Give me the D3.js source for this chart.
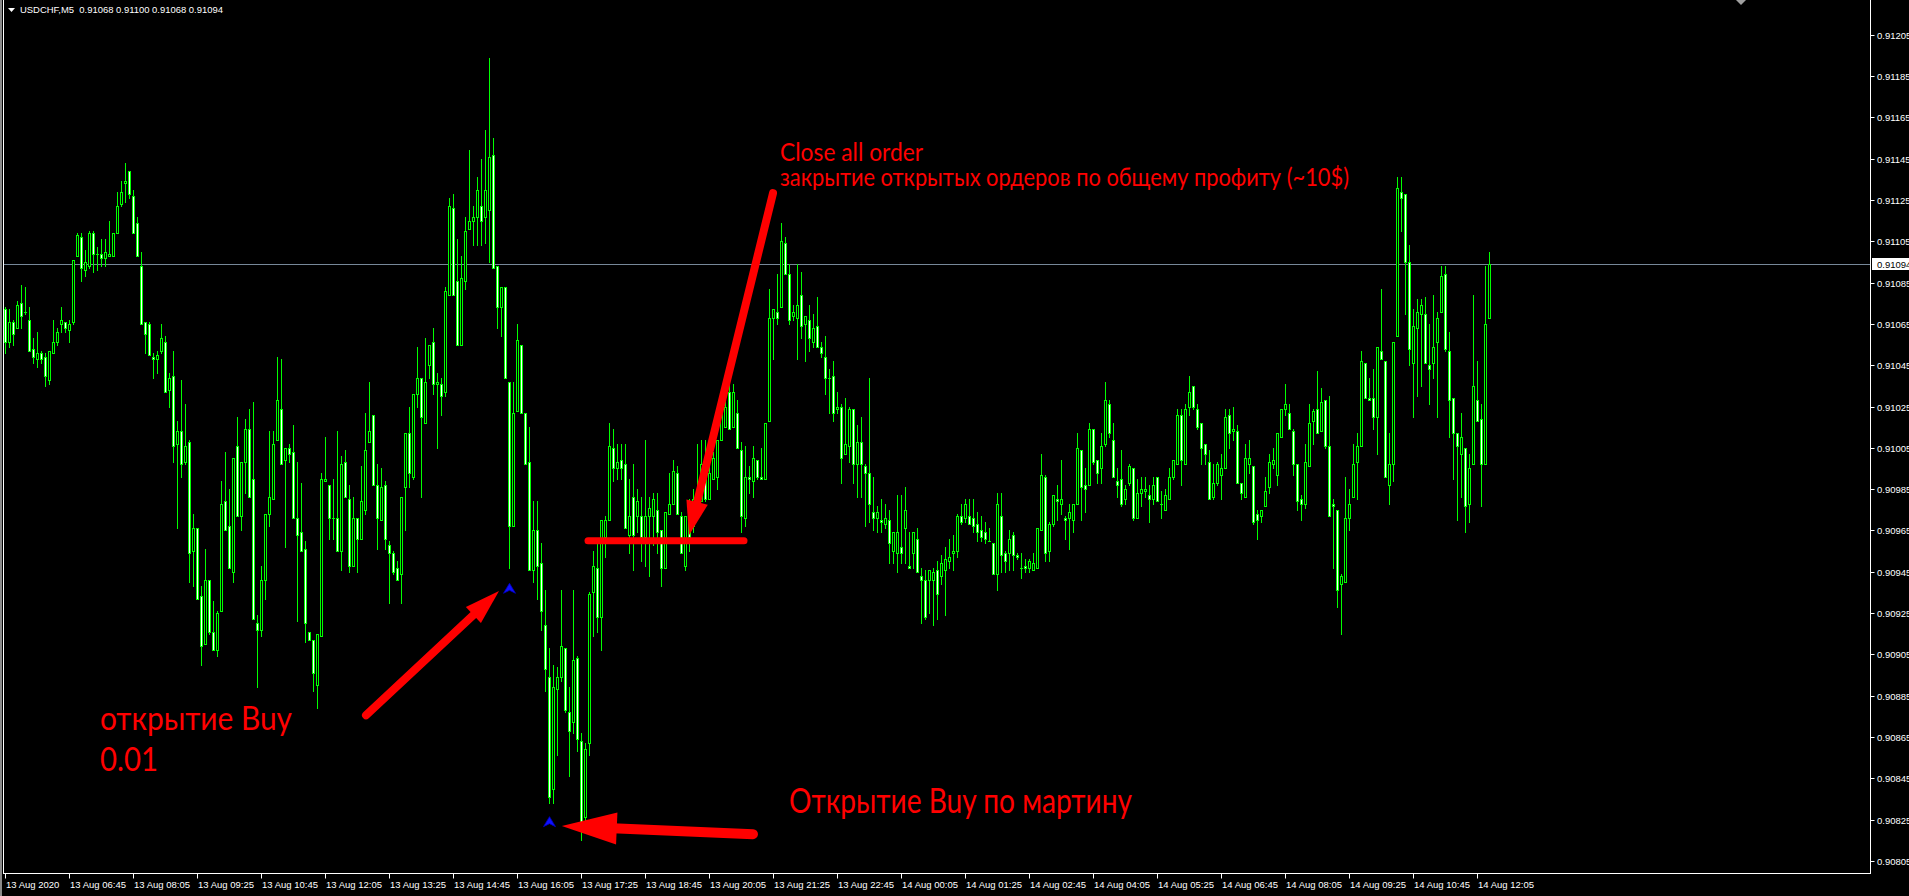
<!DOCTYPE html>
<html><head><meta charset="utf-8">
<script src="https://cdn.jsdelivr.net/npm/d3@7"></script>
<style>html,body{margin:0;padding:0;background:#000;overflow:hidden}</style>
</head><body><svg id="c" width="1909" height="896"></svg>
<script>
// ---------------- DATA ----------------
const symbol = "USDCHF,M5";
const headerOHLC = ["0.91068", "0.91100", "0.91068", "0.91094"];
const bidPrice = 0.91094;

const open = [
0.91072,0.91056,0.91066,0.91063,0.91075,0.91071,0.91067,0.91053,0.91048,0.91051,
0.91049,0.91038,0.91051,0.91056,0.91065,0.91066,0.91062,0.91066,0.91098,0.91107,
0.91091,0.91093,0.91109,0.91099,0.91099,0.91097,0.91098,0.91098,0.91109,0.91123,
0.91133,0.91139,0.91127,0.91114,0.91093,0.91066,0.91065,0.91049,0.91048,0.91052,
0.91056,0.91033,0.91040,0.91007,0.91013,0.90998,0.91008,0.90955,0.90966,0.90933,
0.90910,0.90941,0.90916,0.90907,0.90926,0.90979,0.90967,0.90945,0.91006,0.90972,
0.90998,0.91014,0.90990,0.90920,0.90917,0.90941,0.90973,0.90980,0.91009,0.91024,
0.90999,0.91005,0.91003,0.90971,0.90964,0.90956,0.90916,0.90912,0.90890,0.90914,
0.90989,0.90987,0.90971,0.90971,0.90955,0.90998,0.90980,0.90948,0.90971,0.90961,
0.90975,0.91008,0.91021,0.90987,0.90970,0.90987,0.90958,0.90954,0.90947,0.90944,
0.90986,0.91012,0.90991,0.91031,0.91039,0.91017,0.91045,0.91056,0.91036,0.91036,
0.91032,0.91079,0.91121,0.91086,0.91055,0.91086,0.91111,0.91115,0.91117,0.91122,
0.91117,0.91120,0.91147,0.91093,0.91073,0.91083,0.91037,0.90967,0.91023,0.91055,
0.91022,0.90998,0.90946,0.90965,0.90949,0.90919,0.90894,0.90840,0.90888,0.90894,
0.90908,0.90877,0.90872,0.90903,0.90863,0.90826,0.90862,0.90935,0.90947,0.90923,
0.90962,0.90970,0.91005,0.90995,0.90999,0.90997,0.90963,0.90981,0.90972,0.90972,
0.90962,0.90972,0.90972,0.90975,0.90965,0.90947,0.90973,0.90978,0.90993,0.90972,
0.90948,0.90972,0.90967,0.90978,0.90979,0.90998,0.90980,0.90990,0.90991,0.91009,
0.91015,0.91032,0.91015,0.91022,0.91004,0.90971,0.90991,0.90989,0.90999,0.90991,
0.90990,0.91018,0.91068,0.91071,0.91073,0.91104,0.91089,0.91069,0.91068,0.91079,
0.91065,0.91067,0.91056,0.91064,0.91054,0.91049,0.91039,0.91040,0.91024,0.91025,
0.91002,0.91006,0.91024,0.90997,0.91008,0.90996,0.90993,0.90974,0.90971,0.90970,
0.90968,0.90970,0.90955,0.90954,0.90957,0.90966,0.90948,0.90954,0.90961,0.90943,
0.90941,0.90941,0.90941,0.90946,0.90943,0.90946,0.90950,0.90954,0.90955,0.90972,
0.90971,0.90972,0.90971,0.90968,0.90965,0.90964,0.90960,0.90959,0.90944,0.90972,
0.90954,0.90954,0.90963,0.90953,0.90947,0.90948,0.90947,0.90946,0.90947,0.90965,
0.90991,0.90955,0.90968,0.90980,0.90978,0.90971,0.90971,0.90970,0.90978,0.91004,
0.90987,0.90987,0.91014,0.90999,0.90995,0.91007,0.91026,0.91009,0.90989,0.90990,
0.90980,0.90988,0.90995,0.90971,0.90983,0.90984,0.90982,0.90980,0.90991,0.90978,
0.90975,0.90980,0.90991,0.90997,0.91021,0.90997,0.91025,0.91035,0.91024,0.91017,
0.91007,0.90998,0.90981,0.90988,0.90992,0.90995,0.91021,0.91013,0.91013,0.90988,
0.90981,0.90997,0.90996,0.90973,0.90972,0.90977,0.90986,0.90997,0.90992,0.91010,
0.91024,0.91022,0.91013,0.90997,0.90980,0.90978,0.90996,0.91018,0.91024,0.91013,
0.91028,0.91006,0.90978,0.90975,0.90939,0.90940,0.90971,0.90981,0.90998,0.91006,
0.91046,0.91029,0.91029,0.91020,0.91052,0.91047,0.90987,0.90997,0.91059,0.91129,
0.91128,0.91095,0.91046,0.91063,0.91070,0.91070,0.91045,0.91046,0.91056,0.91071,
0.91089,0.91052,0.91029,0.91012,0.91002,0.91005,0.90978,0.90997,0.91028,0.91019,
0.90997,0.91068];

const high = [
0.91073,0.91072,0.91067,0.91076,0.91084,0.91083,0.91073,0.91058,0.91061,0.91052,
0.91051,0.91052,0.91067,0.91063,0.91073,0.91066,0.91067,0.91096,0.91109,0.91109,
0.91101,0.91110,0.91110,0.91102,0.91106,0.91106,0.91115,0.91109,0.91129,0.91134,
0.91143,0.91139,0.91130,0.91117,0.91100,0.91066,0.91066,0.91051,0.91052,0.91065,
0.91059,0.91041,0.91052,0.91018,0.91038,0.91026,0.91009,0.90973,0.90966,0.90938,
0.90956,0.90941,0.90931,0.90926,0.90989,0.91003,0.90985,0.91000,0.91020,0.90998,
0.91019,0.91024,0.91027,0.90924,0.90948,0.90973,0.91013,0.91013,0.91049,0.91048,
0.91005,0.91007,0.91016,0.90998,0.90988,0.90960,0.90916,0.90912,0.90915,0.90993,
0.91010,0.90987,0.90990,0.91013,0.91001,0.91004,0.90987,0.90981,0.90971,0.90996,
0.91022,0.91037,0.91021,0.90997,0.90995,0.90989,0.90960,0.90955,0.90950,0.90981,
0.91012,0.91025,0.91031,0.91054,0.91039,0.91058,0.91055,0.91063,0.91041,0.91039,
0.91083,0.91126,0.91128,0.91106,0.91098,0.91117,0.91149,0.91122,0.91136,0.91145,
0.91159,0.91194,0.91155,0.91093,0.91083,0.91083,0.91037,0.91037,0.91065,0.91055,
0.91022,0.91015,0.90979,0.90979,0.90959,0.90936,0.90908,0.90900,0.90899,0.90936,
0.90908,0.90889,0.90936,0.90904,0.90867,0.90862,0.90935,0.90955,0.90959,0.90970,
0.90972,0.91017,0.91014,0.91007,0.91007,0.91007,0.90990,0.90997,0.90985,0.90981,
0.91009,0.90981,0.90983,0.90983,0.90965,0.90974,0.90993,0.90999,0.90996,0.90974,
0.90972,0.90980,0.90985,0.91007,0.91009,0.91009,0.91004,0.91003,0.91009,0.91022,
0.91032,0.91037,0.91036,0.91028,0.91008,0.91006,0.90996,0.91006,0.90999,0.91005,
0.91017,0.91082,0.91072,0.91089,0.91114,0.91107,0.91094,0.91074,0.91094,0.91090,
0.91069,0.91074,0.91070,0.91078,0.91056,0.91059,0.91043,0.91047,0.91032,0.91026,
0.91029,0.91025,0.91024,0.91016,0.91020,0.90997,0.91039,0.90991,0.90977,0.90980,
0.90978,0.90975,0.90964,0.90982,0.90982,0.90986,0.90964,0.90964,0.90966,0.90947,
0.90946,0.90946,0.90947,0.90950,0.90953,0.90957,0.90961,0.90963,0.90973,0.90978,
0.90980,0.90980,0.90980,0.90974,0.90972,0.90969,0.90966,0.90959,0.90983,0.90983,
0.90955,0.90965,0.90964,0.90954,0.90954,0.90951,0.90951,0.90954,0.90966,0.91002,
0.90992,0.90969,0.90982,0.90987,0.90999,0.90972,0.90978,0.90978,0.91012,0.91004,
0.90995,0.91017,0.91014,0.90999,0.91012,0.91037,0.91028,0.91017,0.90995,0.91004,
0.90987,0.90997,0.90995,0.90990,0.90991,0.90991,0.90987,0.90991,0.90991,0.90984,
0.90985,0.90995,0.90999,0.91024,0.91024,0.91026,0.91040,0.91035,0.91026,0.91017,
0.91007,0.91004,0.90997,0.90998,0.91002,0.91024,0.91024,0.91025,0.91016,0.90988,
0.91007,0.91009,0.90996,0.90975,0.90975,0.90991,0.91002,0.91005,0.91012,0.91024,
0.91036,0.91026,0.91014,0.90997,0.90982,0.91007,0.91026,0.91024,0.91042,0.91034,
0.91028,0.91030,0.90980,0.90975,0.90944,0.90991,0.90985,0.91007,0.91012,0.91052,
0.91046,0.91039,0.91043,0.91054,0.91082,0.91047,0.91012,0.91056,0.91136,0.91136,
0.91128,0.91103,0.91072,0.91077,0.91077,0.91078,0.91065,0.91079,0.91071,0.91093,
0.91093,0.91061,0.91029,0.91012,0.91022,0.91005,0.91002,0.91079,0.91047,0.91026,
0.91093,0.91100];

const low = [
0.91051,0.91054,0.91055,0.91063,0.91063,0.91070,0.91052,0.91046,0.91044,0.91046,
0.91035,0.91036,0.91051,0.91055,0.91061,0.91061,0.91056,0.91065,0.91098,0.91086,
0.91088,0.91092,0.91090,0.91091,0.91093,0.91093,0.91098,0.91098,0.91109,0.91122,
0.91124,0.91126,0.91109,0.91098,0.91065,0.91051,0.91050,0.91039,0.91041,0.91051,
0.91032,0.91025,0.90998,0.90966,0.90991,0.90997,0.90940,0.90938,0.90932,0.90900,
0.90910,0.90915,0.90907,0.90904,0.90926,0.90965,0.90947,0.90940,0.90972,0.90965,
0.90983,0.90981,0.90922,0.90889,0.90914,0.90932,0.90967,0.90980,0.91009,0.90997,
0.90957,0.90998,0.90971,0.90921,0.90955,0.90911,0.90912,0.90887,0.90879,0.90914,
0.90989,0.90961,0.90961,0.90955,0.90946,0.90981,0.90945,0.90948,0.90945,0.90961,
0.90973,0.91008,0.90987,0.90956,0.90970,0.90956,0.90930,0.90944,0.90941,0.90930,
0.90965,0.90986,0.90990,0.91025,0.90981,0.91017,0.91039,0.91031,0.91005,0.91021,
0.91030,0.91079,0.91079,0.91055,0.91055,0.91082,0.91111,0.91103,0.91103,0.91103,
0.91104,0.91095,0.91092,0.91063,0.91059,0.91039,0.90947,0.90967,0.91023,0.91022,
0.90997,0.90946,0.90940,0.90932,0.90917,0.90887,0.90833,0.90833,0.90856,0.90892,
0.90877,0.90846,0.90867,0.90858,0.90815,0.90822,0.90856,0.90914,0.90916,0.90907,
0.90952,0.90970,0.90989,0.90990,0.90990,0.90966,0.90954,0.90946,0.90964,0.90950,
0.90948,0.90943,0.90958,0.90954,0.90938,0.90947,0.90973,0.90978,0.90973,0.90954,
0.90946,0.90955,0.90964,0.90978,0.90979,0.90979,0.90980,0.90990,0.90985,0.91009,
0.91015,0.91014,0.91015,0.91005,0.90964,0.90967,0.90983,0.90981,0.90990,0.90990,
0.90990,0.91018,0.91048,0.91065,0.91073,0.91089,0.91065,0.91067,0.91048,0.91058,
0.91047,0.91052,0.91054,0.91054,0.91049,0.91031,0.91022,0.91018,0.91022,0.90988,
0.91002,0.90998,0.90988,0.90981,0.90981,0.90967,0.90969,0.90965,0.90964,0.90964,
0.90966,0.90949,0.90949,0.90945,0.90949,0.90949,0.90947,0.90947,0.90945,0.90920,
0.90922,0.90925,0.90919,0.90922,0.90939,0.90924,0.90947,0.90946,0.90952,0.90968,
0.90969,0.90968,0.90964,0.90960,0.90960,0.90959,0.90960,0.90944,0.90936,0.90945,
0.90945,0.90946,0.90946,0.90951,0.90942,0.90945,0.90945,0.90946,0.90947,0.90965,
0.90950,0.90950,0.90967,0.90970,0.90973,0.90961,0.90956,0.90964,0.90978,0.90970,
0.90974,0.90987,0.90997,0.90988,0.90988,0.91006,0.91010,0.90991,0.90981,0.90977,
0.90978,0.90987,0.90970,0.90971,0.90977,0.90981,0.90969,0.90978,0.90979,0.90971,
0.90975,0.90980,0.90990,0.90997,0.90987,0.90997,0.91021,0.91024,0.91014,0.90997,
0.90997,0.90980,0.90980,0.90987,0.90980,0.90995,0.91005,0.91009,0.90988,0.90980,
0.90981,0.90993,0.90968,0.90961,0.90969,0.90977,0.90983,0.90995,0.90987,0.91010,
0.91021,0.91014,0.90992,0.90975,0.90970,0.90976,0.90996,0.91007,0.91012,0.91013,
0.91005,0.90972,0.90947,0.90928,0.90915,0.90940,0.90965,0.90981,0.90980,0.91006,
0.91029,0.91028,0.91014,0.91002,0.91048,0.90991,0.90978,0.90989,0.91059,0.91110,
0.91070,0.91045,0.91020,0.91030,0.91035,0.91046,0.91026,0.91039,0.91020,0.91071,
0.91052,0.91010,0.90990,0.90970,0.90981,0.90964,0.90969,0.90997,0.91018,0.90977,
0.90997,0.91068];

const close = [
0.91056,0.91066,0.91060,0.91074,0.91069,0.91071,0.91052,0.91049,0.91051,0.91048,
0.91040,0.91052,0.91056,0.91061,0.91067,0.91063,0.91065,0.91096,0.91108,0.91092,
0.91095,0.91109,0.91099,0.91099,0.91097,0.91100,0.91099,0.91109,0.91122,0.91129,
0.91134,0.91128,0.91109,0.91098,0.91065,0.91060,0.91050,0.91048,0.91050,0.91058,
0.91032,0.91039,0.91006,0.91013,0.90997,0.91006,0.90954,0.90966,0.90932,0.90909,
0.90941,0.90916,0.90907,0.90925,0.90978,0.90965,0.90947,0.91000,0.90972,0.90998,
0.91014,0.90981,0.90922,0.90917,0.90941,0.90973,0.90981,0.91007,0.91028,0.90997,
0.91005,0.91002,0.90971,0.90963,0.90955,0.90920,0.90912,0.90896,0.90915,0.90990,
0.90990,0.90971,0.90971,0.90955,0.90997,0.90981,0.90948,0.90971,0.90961,0.90979,
0.91004,0.91013,0.90987,0.90971,0.90986,0.90961,0.90954,0.90945,0.90941,0.90981,
0.91012,0.90993,0.91031,0.91039,0.91020,0.91037,0.91055,0.91036,0.91037,0.91030,
0.91081,0.91122,0.91079,0.91055,0.91087,0.91110,0.91115,0.91117,0.91130,0.91115,
0.91130,0.91146,0.91092,0.91073,0.91083,0.91039,0.90967,0.91022,0.91057,0.91022,
0.90997,0.90946,0.90965,0.90948,0.90926,0.90898,0.90836,0.90889,0.90894,0.90909,
0.90878,0.90868,0.90902,0.90864,0.90824,0.90859,0.90934,0.90948,0.90923,0.90970,
0.90970,0.91006,0.90995,0.90998,0.90995,0.90966,0.90972,0.90963,0.90979,0.90962,
0.90972,0.90976,0.90980,0.90964,0.90947,0.90974,0.90978,0.90994,0.90973,0.90954,
0.90972,0.90962,0.90980,0.90983,0.90997,0.90980,0.90993,0.91000,0.91009,0.91022,
0.91025,0.91014,0.91032,0.91005,0.90972,0.90991,0.90990,0.91000,0.90991,0.90990,
0.91017,0.91068,0.91072,0.91068,0.91105,0.91089,0.91067,0.91071,0.91074,0.91064,
0.91069,0.91058,0.91063,0.91054,0.91051,0.91039,0.91039,0.91022,0.91025,0.91000,
0.91007,0.91024,0.90997,0.91008,0.90997,0.90993,0.90978,0.90971,0.90974,0.90969,
0.90971,0.90959,0.90964,0.90964,0.90954,0.90975,0.90947,0.90964,0.90945,0.90941,
0.90923,0.90946,0.90945,0.90934,0.90949,0.90951,0.90952,0.90955,0.90972,0.90969,
0.90978,0.90968,0.90967,0.90964,0.90962,0.90961,0.90960,0.90944,0.90978,0.90953,
0.90950,0.90961,0.90953,0.90952,0.90947,0.90947,0.90950,0.90949,0.90966,0.90992,
0.90954,0.90968,0.90982,0.90979,0.90980,0.90970,0.90974,0.90978,0.91005,0.90986,
0.90985,0.91014,0.90998,0.90993,0.91006,0.91028,0.91012,0.90991,0.90987,0.90978,
0.90985,0.90996,0.90971,0.90983,0.90985,0.90985,0.90980,0.90987,0.90979,0.90978,
0.90982,0.90991,0.90999,0.91021,0.90999,0.91024,0.91032,0.91025,0.91015,0.91005,
0.91002,0.90980,0.90988,0.90997,0.90995,0.91020,0.91012,0.91014,0.90988,0.90983,
0.91000,0.91000,0.90969,0.90970,0.90975,0.90984,0.90998,0.90999,0.91012,0.91024,
0.91026,0.91014,0.90997,0.90979,0.90978,0.90998,0.91017,0.91023,0.91012,0.91027,
0.91006,0.90972,0.90977,0.90936,0.90943,0.90971,0.90978,0.90997,0.91006,0.91047,
0.91029,0.91028,0.91020,0.91054,0.91048,0.90991,0.90997,0.91056,0.91131,0.91126,
0.91095,0.91053,0.91064,0.91071,0.91074,0.91046,0.91043,0.91054,0.91068,0.91088,
0.91053,0.91028,0.91012,0.91006,0.91010,0.90977,0.90995,0.91035,0.91018,0.90997,
0.91065,0.91094];

const priceTicks = [0.91205,0.91185,0.91165,0.91145,0.91125,0.91105,0.91085,0.91065,0.91045,0.91025,
  0.91005,0.90985,0.90965,0.90945,0.90925,0.90905,0.90885,0.90865,0.90845,0.90825,0.90805];

const timeLabels = ["13 Aug 2020","13 Aug 06:45","13 Aug 08:05","13 Aug 09:25","13 Aug 10:45","13 Aug 12:05",
  "13 Aug 13:25","13 Aug 14:45","13 Aug 16:05","13 Aug 17:25","13 Aug 18:45","13 Aug 20:05","13 Aug 21:25",
  "13 Aug 22:45","14 Aug 00:05","14 Aug 01:25","14 Aug 02:45","14 Aug 04:05","14 Aug 05:25","14 Aug 06:45",
  "14 Aug 08:05","14 Aug 09:25","14 Aug 10:45","14 Aug 12:05"];
const barsPerLabel = 16;

// buy orders (bar index, open price) shown as blue arrows
const buyBars = [126, 136];
const buyPrices = [0.90936, 0.90823];

// annotations (bar index / price)
const closeLine = {from: 145.75, to: 184.75, price: 0.90960};
const arrows = [
  {from: [90.25, 0.908755], to: [123.5, 0.909356], head: 35, half: 11, w: 8},
  {from: [187.0, 0.908179], to: [139.2, 0.908218], head: 55, half: 16, w: 10},
  {from: [192.0, 0.911283], to: [171.0, 0.909627], head: 34, half: 11, w: 8}
];
const notes = [
  {text: "Close all order", x: 780, y: 161, size: 25, len: 143},
  {text: "закрытие открытых ордеров по общему профиту (~10$)", x: 780, y: 186, size: 25, len: 569},
  {text: "открытие Buy", x: 100, y: 730, size: 33, len: 192},
  {text: "0.01", x: 100, y: 771, size: 33, len: 58},
  {text: "Открытие Buy по мартину", x: 789, y: 813, size: 34, len: 343}
];

// ---------------- DRAW ----------------
const W = 1909, H = 896;
const svg = d3.select("#c");
svg.append("rect").attr("width", W).attr("height", H).attr("fill", "#000");

const frameRight = 1870.5, frameBottom = 873.5;
const x = d3.scaleLinear().domain([0, 1]).range([5, 9]);
const y = d3.scaleLinear().domain([0.90805, 0.91205]).range([860.8, 34.8]);
const LIME = "#00ff00";

// window edge + frame
svg.append("rect").attr("x", 0).attr("y", 0).attr("width", 2).attr("height", H).attr("fill", "#8a8a8a");
svg.append("line").attr("x1", 3.5).attr("x2", 3.5).attr("y1", 0).attr("y2", frameBottom)
  .attr("stroke", "#fff").attr("stroke-width", 1);
svg.append("line").attr("x1", frameRight).attr("x2", frameRight).attr("y1", 0).attr("y2", frameBottom)
  .attr("stroke", "#fff").attr("stroke-width", 1);
svg.append("line").attr("x1", 3).attr("x2", frameRight + 0.5).attr("y1", frameBottom).attr("y2", frameBottom)
  .attr("stroke", "#fff").attr("stroke-width", 1);

// bid line
const bidY = Math.round(y(bidPrice)) + 0.5;
svg.append("line").attr("x1", 4).attr("x2", frameRight - 0.5).attr("y1", bidY).attr("y2", bidY)
  .attr("stroke", "#778899").attr("stroke-width", 1);

// candles
const bars = d3.range(open.length).map(i => ({i, o: open[i], h: high[i], l: low[i], c: close[i]}));
const g = svg.append("g");
bars.forEach(b => {
  const cx = Math.round(x(b.i));
  const yh = Math.round(y(b.h)), yl = Math.round(y(b.l));
  g.append("rect").attr("x", cx).attr("y", yh).attr("width", 1).attr("height", Math.max(1, yl - yh + 1)).attr("fill", LIME);
  const top = Math.round(y(Math.max(b.o, b.c))), bot = Math.round(y(Math.min(b.o, b.c)));
  if (bot - top < 1) {
    g.append("rect").attr("x", cx - 1).attr("y", top).attr("width", 3).attr("height", 1).attr("fill", LIME);
  } else {
    g.append("rect").attr("x", cx - 1).attr("y", top).attr("width", 3).attr("height", bot - top + 1).attr("fill", LIME);
    if (bot - top >= 2) {
      g.append("rect").attr("x", cx).attr("y", top + 1).attr("width", 1).attr("height", bot - top - 1)
        .attr("fill", b.c < b.o ? "#ffffff" : "#000000");
    }
  }
});

// price axis
const axisFont = "'Liberation Sans', Arial, sans-serif";
priceTicks.forEach(p => {
  const ty = Math.round(y(p)) + 0.5;
  svg.append("line").attr("x1", frameRight).attr("x2", frameRight + 4).attr("y1", ty).attr("y2", ty).attr("stroke", "#fff");
  svg.append("text").attr("x", 1877).attr("y", ty + 3.5).attr("fill", "#fff")
    .attr("font-family", axisFont).attr("font-size", "9.5px").text(p.toFixed(5));
});
svg.append("rect").attr("x", 1872).attr("y", bidY - 6.5).attr("width", 37).attr("height", 12).attr("fill", "#fff");
svg.append("text").attr("x", 1877).attr("y", bidY + 3.5).attr("fill", "#000")
  .attr("font-family", axisFont).attr("font-size", "9.5px").text(bidPrice.toFixed(5));

// time axis
timeLabels.forEach((t, k) => {
  const tx = Math.round(x(k * barsPerLabel)) + 0.5;
  svg.append("line").attr("x1", tx).attr("x2", tx).attr("y1", frameBottom).attr("y2", frameBottom + 5).attr("stroke", "#fff");
  svg.append("text").attr("x", tx + 0.5).attr("y", 888).attr("fill", "#fff")
    .attr("font-family", axisFont).attr("font-size", "9.5px").text(t);
});

// header
svg.append("path").attr("d", "M8,8 L15,8 L11.5,12 Z").attr("fill", "#fff");
svg.append("text").attr("x", 20).attr("y", 13).attr("fill", "#fff")
  .attr("font-family", axisFont).attr("font-size", "9.5px").attr("xml:space", "preserve")
  .attr("textLength", 203).attr("lengthAdjust", "spacingAndGlyphs")
  .text(symbol + "  " + headerOHLC.join(" "));
// chart shift marker
svg.append("path").attr("d", "M1736,0 L1746,0 L1741,5 Z").attr("fill", "#a0a0a0");

// buy arrows (blue)
buyBars.forEach((bi, k) => {
  const bx = Math.round(x(bi)) + 0.5, by = y(buyPrices[k]);
  svg.append("path").attr("d", `M${bx},${by - 7} L${bx + 6},${by + 3} L${bx},${by} L${bx - 6},${by + 3} Z`)
    .attr("fill", "#1010ff").attr("stroke", "#0000c0").attr("stroke-width", 0.8);
});

// red annotations
const RED = "#ff0000";
svg.append("line")
  .attr("x1", x(closeLine.from)).attr("x2", x(closeLine.to))
  .attr("y1", y(closeLine.price)).attr("y2", y(closeLine.price))
  .attr("stroke", RED).attr("stroke-width", 7).attr("stroke-linecap", "round");

arrows.forEach(a => {
  const x0 = x(a.from[0]), y0 = y(a.from[1]), x1 = x(a.to[0]), y1 = y(a.to[1]);
  const len = Math.hypot(x1 - x0, y1 - y0), ux = (x1 - x0) / len, uy = (y1 - y0) / len;
  const bx = x1 - ux * a.head, by = y1 - uy * a.head, nx = -uy, ny = ux;
  svg.append("line").attr("x1", x0).attr("y1", y0).attr("x2", bx + ux * 4).attr("y2", by + uy * 4)
    .attr("stroke", RED).attr("stroke-width", a.w).attr("stroke-linecap", "round");
  svg.append("path")
    .attr("d", `M${x1},${y1} L${bx + nx * a.half},${by + ny * a.half} L${bx - nx * a.half},${by - ny * a.half} Z`)
    .attr("fill", RED);
});

notes.forEach(n => {
  svg.append("text").attr("x", n.x).attr("y", n.y).attr("fill", RED)
    .attr("font-family", "Lato, 'Open Sans', sans-serif").attr("font-size", n.size + "px")
    .attr("textLength", n.len).attr("lengthAdjust", "spacingAndGlyphs").text(n.text);
});
</script>
</body></html>
